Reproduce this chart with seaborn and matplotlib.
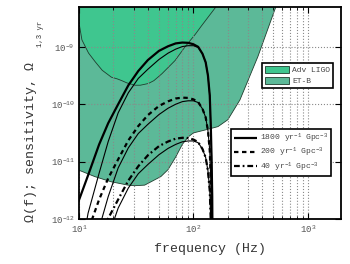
import numpy as np
import pandas as pd
import matplotlib
matplotlib.use("Agg")
import matplotlib.pyplot as plt
from matplotlib.patches import Patch
from matplotlib.lines import Line2D
from matplotlib.ticker import FixedLocator, NullLocator, LogLocator, FixedFormatter
import seaborn as sns

# ---------------- data (log10 of Omega) ----------------
freq_src = [9, 10, 12, 15, 18, 22, 27, 33, 40, 50, 60, 70, 80, 90, 100, 110,
            120, 128, 134, 139, 142, 144, 146, 147]

log_omega_1800 = [-11.93, -11.67, -11.24, -10.70, -10.33, -10.00, -9.67, -9.42,
                  -9.23, -9.07, -8.99, -8.94, -8.925, -8.93, -8.955, -9.00,
                  -9.12, -9.27, -9.50, -9.85, -10.40, -10.90, -11.60, -12.50]
log_omega_1800_thin = [-13.5, -12.8, -11.9, -11.2, -10.65, -10.15, -9.80, -9.55,
                       -9.39, -9.22, -9.11, -9.04, -8.995, -8.98, -8.98, -9.01,
                       -9.12, -9.27, -9.50, -9.85, -10.40, -10.90, -11.60, -12.50]
log_omega_200 = [-12.89, -12.63, -12.20, -11.66, -11.29, -10.96, -10.63, -10.38,
                 -10.19, -10.03, -9.95, -9.90, -9.885, -9.89, -9.915, -9.96,
                 -10.08, -10.23, -10.46, -10.81, -11.36, -11.86, -12.56, -13.46]
log_omega_200_thin = [-14.46, -13.76, -12.86, -12.16, -11.61, -11.11, -10.76, -10.51,
                      -10.35, -10.18, -10.07, -10.00, -9.955, -9.94, -9.94, -9.97,
                      -10.08, -10.23, -10.46, -10.81, -11.36, -11.86, -12.56, -13.46]
log_omega_40 = [-13.59, -13.33, -12.90, -12.36, -11.99, -11.66, -11.33, -11.08,
                -10.89, -10.73, -10.65, -10.60, -10.585, -10.59, -10.615, -10.66,
                -10.78, -10.93, -11.16, -11.51, -12.06, -12.56, -13.26, -14.16]
log_omega_40_thin = [-15.16, -14.46, -13.56, -12.86, -12.31, -11.81, -11.46, -11.21,
                     -11.05, -10.88, -10.77, -10.70, -10.655, -10.64, -10.64, -10.67,
                     -10.78, -10.93, -11.16, -11.51, -12.06, -12.56, -13.26, -14.16]

freq_aligo = [9.5, 10, 10.5, 12, 13.7, 15.8, 19, 21.4, 23.4, 26, 30.6, 34, 40,
              44.7, 52.5, 68.4, 83, 103, 116, 155, 200]
log_sens_aligo = [-8.2, -8.62, -8.87, -9.10, -9.25, -9.40, -9.52, -9.55, -9.58,
                  -9.62, -9.66, -9.66, -9.63, -9.58, -9.46, -9.23, -9.0, -8.77,
                  -8.63, -8.30, -7.95]

freq_etb = [9, 10, 13.7, 19, 26.8, 30.6, 37.5, 52, 60, 70, 80, 90, 100, 126,
            164, 200, 255, 366, 515, 630]
log_sens_etb = [-11.1, -11.15, -11.26, -11.35, -11.41, -11.42, -11.41, -11.26,
                -11.14, -10.92, -10.70, -10.57, -10.50, -10.45, -10.39, -10.27,
                -9.925, -9.17, -8.35, -7.9]

x_ticks = [10, 100, 1000]
x_tick_labels = ["10$^{1}$", "10$^{2}$", "10$^{3}$"]
y_ticks = [1e-12, 1e-11, 1e-10, 1e-9]
y_tick_labels = ["10$^{-12}$", "10$^{-11}$", "10$^{-10}$", "10$^{-9}$"]

rate_labels = ["1800 yr$^{-1}$ Gpc$^{-3}$", "200 yr$^{-1}$ Gpc$^{-3}$",
               "40 yr$^{-1}$ Gpc$^{-3}$"]
region_labels = ["Adv LIGO", "ET-B"]
ylabel_main = "\u03a9(f); sensitivity, \u03a9"
ylabel_sub = "1,3 yr"
xlabel_text = "frequency (Hz)"

# ---------------- style ----------------
sns.set_style("ticks")
plt.rcParams["font.family"] = ["Liberation Mono", "DejaVu Sans"]
plt.rcParams["mathtext.fontset"] = "custom"
plt.rcParams["mathtext.rm"] = "Liberation Mono"
plt.rcParams["mathtext.it"] = "Liberation Mono"
plt.rcParams["mathtext.default"] = "regular"

c_aligo = "#3fc68f"
c_etb = "#5cb998"
edge_c = "#1f3d2e"

fig = plt.figure(figsize=(3.5, 2.64), dpi=100)
ax = fig.add_axes([0.2257, 0.1705, 0.7486, 0.803])
ax.set_xscale("log")
ax.set_yscale("log")

TOP = 1e-6
ax.fill_between(freq_etb, np.power(10.0, log_sens_etb), TOP, facecolor=c_etb,
                edgecolor=edge_c, linewidth=0.6, zorder=1)
ax.fill_between(freq_aligo, np.power(10.0, log_sens_aligo), TOP, facecolor=c_aligo,
                edgecolor=edge_c, linewidth=0.6, zorder=1.05)

DASHED = (0, (2.0, 1.6))
DASHDOT = (0, (2.6, 1.3, 0.8, 1.3))
series = [
    (log_omega_1800, 1.6, (0, ())),
    (log_omega_1800_thin, 0.8, (0, ())),
    (log_omega_200, 1.6, DASHED),
    (log_omega_200_thin, 0.8, (0, ())),
    (log_omega_40, 1.6, DASHDOT),
    (log_omega_40_thin, 0.8, (0, ())),
]
for vals, lw, ls in series:
    df = pd.DataFrame({"f": freq_src, "omega": np.power(10.0, vals)})
    n0 = len(ax.lines)
    sns.lineplot(data=df, x="f", y="omega", ax=ax, color="black", lw=lw,
                 estimator=None, sort=False, zorder=3)
    ln = ax.lines[n0]
    ln.set_linestyle(ls)
    ln.set_solid_capstyle("butt")

ax.set_xlim(10, 1950)
ax.set_ylim(1e-12, 4.95e-9)

ax.xaxis.set_major_locator(FixedLocator(x_ticks))
ax.xaxis.set_major_formatter(FixedFormatter(x_tick_labels))
ax.xaxis.set_minor_locator(LogLocator(base=10, subs=np.arange(2, 10), numticks=20))
ax.yaxis.set_major_locator(FixedLocator(y_ticks))
ax.yaxis.set_major_formatter(FixedFormatter(y_tick_labels))
ax.yaxis.set_minor_locator(NullLocator())

ax.set_axisbelow("line")
ax.grid(True, which="major", axis="both", ls=":", color="#8a8a8a", lw=0.8)
ax.grid(True, which="minor", axis="x", ls=":", color="#8a8a8a", lw=0.8)

ax.tick_params(which="both", direction="in", top=True, right=True,
               labelsize=6.6, labelcolor="#555555", color="black", pad=3)
ax.tick_params(which="major", length=4, width=0.8)
ax.tick_params(which="minor", length=2, width=0.6)
ax.tick_params(axis="x", which="minor", labelbottom=False)
for s in ax.spines.values():
    s.set_linewidth(1.3)
    s.set_color("black")

ax.set_xlabel(xlabel_text, fontsize=9.5, color="#333333", labelpad=6)
ax.set_ylabel(ylabel_main, fontsize=9.5, color="#333333")
ax.yaxis.set_label_coords(-0.16, 0.365)
fig.text(44 / 350, 1 - 21 / 264, ylabel_sub, rotation=90, ha="right", va="top",
         fontsize=5.2, color="#333333")

# legends
patch_handles = [Patch(facecolor=c_aligo, edgecolor=edge_c, lw=0.6),
                 Patch(facecolor=c_etb, edgecolor=edge_c, lw=0.6)]
leg1 = ax.legend(patch_handles, region_labels, loc="upper right",
                 bbox_to_anchor=(333 / 350, 1 - 63 / 264),
                 bbox_transform=fig.transFigure, fontsize=5.8, frameon=True,
                 fancybox=False, framealpha=1, edgecolor="black",
                 handlelength=3.0, handleheight=1.0, borderpad=0.35,
                 labelspacing=0.35, handletextpad=0.4, borderaxespad=0)
leg1.get_frame().set_linewidth(1.2)
for t in leg1.get_texts():
    t.set_color("#444444")
ax.add_artist(leg1)

line_handles = [Line2D([], [], color="black", lw=1.6, ls=(0, ())),
                Line2D([], [], color="black", lw=1.6, ls=DASHED),
                Line2D([], [], color="black", lw=1.6, ls=DASHDOT)]
leg2 = ax.legend(line_handles, rate_labels, loc="upper right",
                 bbox_to_anchor=(331 / 350, 1 - 129 / 264),
                 bbox_transform=fig.transFigure, fontsize=5.8, frameon=True,
                 fancybox=False, framealpha=1, edgecolor="black",
                 handlelength=2.8, borderpad=0.35, labelspacing=0.12,
                 handletextpad=0.4, borderaxespad=0)
leg2.get_frame().set_linewidth(1.2)
for t in leg2.get_texts():
    t.set_color("#444444")

fig.savefig("out.png", dpi=100)
